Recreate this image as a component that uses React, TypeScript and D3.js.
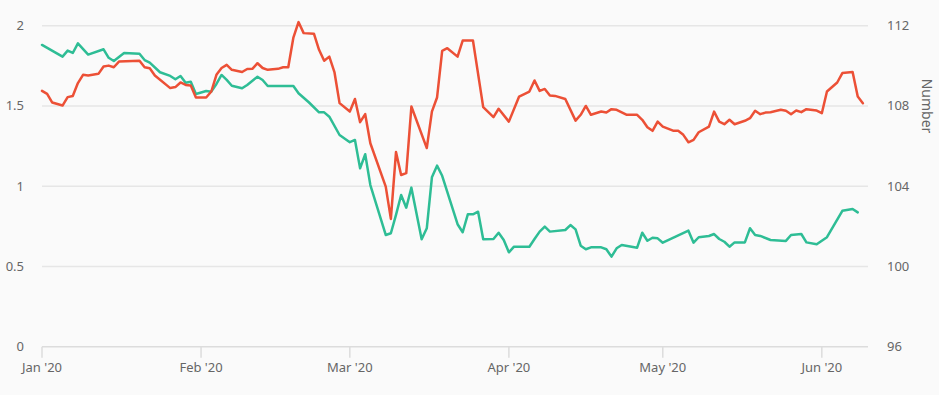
import React from "react";
import * as d3 from "d3";

document.body.style.margin = "0";

const leftTicks = [0, 0.5, 1, 1.5, 2];
const rightTicks = [96, 100, 104, 108, 112];
const monthTicks = ["2020-01-01", "2020-02-01", "2020-03-01", "2020-04-01", "2020-05-01", "2020-06-01"];

const greenDates = [
  "2020-01-01","2020-01-05","2020-01-06","2020-01-07","2020-01-08","2020-01-10","2020-01-13","2020-01-14","2020-01-15","2020-01-17",
  "2020-01-20","2020-01-21","2020-01-22","2020-01-24","2020-01-26","2020-01-27","2020-01-28","2020-01-29","2020-01-30","2020-01-31",
  "2020-02-02","2020-02-03","2020-02-04","2020-02-05","2020-02-06","2020-02-07","2020-02-09","2020-02-10","2020-02-12","2020-02-13",
  "2020-02-14","2020-02-19","2020-02-20","2020-02-22","2020-02-24","2020-02-25","2020-02-26","2020-02-28","2020-03-01","2020-03-02",
  "2020-03-03","2020-03-04","2020-03-05","2020-03-08","2020-03-09","2020-03-10","2020-03-11","2020-03-12","2020-03-13","2020-03-15",
  "2020-03-16","2020-03-17","2020-03-18","2020-03-19","2020-03-22","2020-03-23","2020-03-24","2020-03-25","2020-03-26","2020-03-27",
  "2020-03-29","2020-03-30","2020-03-31","2020-04-01","2020-04-02","2020-04-05","2020-04-06","2020-04-07","2020-04-08","2020-04-09",
  "2020-04-12","2020-04-13","2020-04-14","2020-04-15","2020-04-16","2020-04-17","2020-04-19","2020-04-20","2020-04-21","2020-04-22",
  "2020-04-23","2020-04-26","2020-04-27","2020-04-28","2020-04-29","2020-04-30","2020-05-01","2020-05-06","2020-05-07","2020-05-08",
  "2020-05-10","2020-05-11","2020-05-12","2020-05-13","2020-05-14","2020-05-15","2020-05-17","2020-05-18","2020-05-19","2020-05-20",
  "2020-05-22","2020-05-25","2020-05-26","2020-05-28","2020-05-29","2020-05-31","2020-06-02","2020-06-05","2020-06-07","2020-06-08"
];
const greenValues = [
  1.88,1.807,1.845,1.83,1.89,1.82,1.853,1.80,1.78,1.83,
  1.825,1.786,1.77,1.71,1.687,1.666,1.687,1.645,1.651,1.574,
  1.593,1.589,1.637,1.693,1.662,1.626,1.61,1.631,1.682,1.662,
  1.624,1.624,1.579,1.523,1.46,1.46,1.433,1.319,1.274,1.288,
  1.111,1.199,1.007,0.696,0.707,0.821,0.945,0.866,0.991,0.669,
  0.738,1.055,1.128,1.065,0.763,0.713,0.825,0.825,0.841,0.669,
  0.671,0.710,0.665,0.588,0.623,0.623,0.671,0.717,0.748,0.717,
  0.727,0.758,0.731,0.629,0.607,0.619,0.619,0.607,0.561,0.613,
  0.634,0.617,0.710,0.660,0.679,0.675,0.648,0.723,0.648,0.682,
  0.690,0.702,0.671,0.654,0.623,0.650,0.650,0.738,0.696,0.690,
  0.665,0.659,0.696,0.702,0.650,0.638,0.682,0.847,0.858,0.837
];

const redDates = [
  "2020-01-01","2020-01-02","2020-01-03","2020-01-05","2020-01-06","2020-01-07","2020-01-08","2020-01-09","2020-01-10","2020-01-12",
  "2020-01-13","2020-01-14","2020-01-15","2020-01-16","2020-01-20","2020-01-21","2020-01-22","2020-01-23","2020-01-26","2020-01-27",
  "2020-01-28","2020-01-29","2020-01-30","2020-01-31","2020-02-02","2020-02-03","2020-02-04","2020-02-05","2020-02-06","2020-02-07",
  "2020-02-09","2020-02-10","2020-02-11","2020-02-12","2020-02-13","2020-02-14","2020-02-16","2020-02-17","2020-02-18","2020-02-19",
  "2020-02-20","2020-02-21","2020-02-23","2020-02-24","2020-02-25","2020-02-26","2020-02-27","2020-02-28","2020-03-01","2020-03-02",
  "2020-03-03","2020-03-04","2020-03-05","2020-03-08","2020-03-09","2020-03-10","2020-03-11","2020-03-12","2020-03-13","2020-03-16",
  "2020-03-17","2020-03-18","2020-03-19","2020-03-20","2020-03-22","2020-03-23","2020-03-25","2020-03-27","2020-03-29","2020-03-30",
  "2020-04-01","2020-04-03","2020-04-05","2020-04-06","2020-04-07","2020-04-08","2020-04-09","2020-04-10","2020-04-12","2020-04-14",
  "2020-04-15","2020-04-16","2020-04-17","2020-04-19","2020-04-20","2020-04-21","2020-04-22","2020-04-24","2020-04-26","2020-04-27",
  "2020-04-28","2020-04-29","2020-04-30","2020-05-01","2020-05-03","2020-05-04","2020-05-05","2020-05-06","2020-05-07","2020-05-08",
  "2020-05-10","2020-05-11","2020-05-12","2020-05-13","2020-05-14","2020-05-15","2020-05-17","2020-05-18","2020-05-19","2020-05-20",
  "2020-05-21","2020-05-22","2020-05-24","2020-05-25","2020-05-26","2020-05-27","2020-05-28","2020-05-29","2020-05-31","2020-06-01",
  "2020-06-02","2020-06-04","2020-06-05","2020-06-07","2020-06-08","2020-06-09"
];
const redValues = [
  108.75,108.6,108.17,108.02,108.44,108.5,109.14,109.55,109.52,109.6,
  109.97,110.01,109.93,110.21,110.25,109.93,109.88,109.52,108.89,108.94,
  109.17,109.05,109.02,108.42,108.42,108.72,109.55,109.89,110.05,109.80,
  109.69,109.84,109.85,110.13,109.89,109.8,109.85,109.93,109.93,111.41,
  112.18,111.63,111.6,110.80,110.25,110.46,109.69,108.14,107.72,108.35,
  107.19,107.59,106.14,103.98,102.37,105.70,104.56,104.65,107.97,105.90,
  107.72,108.42,110.75,110.88,110.46,111.26,111.26,107.94,107.44,107.86,
  107.22,108.47,108.72,109.27,108.75,108.85,108.52,108.50,108.35,107.27,
  107.56,108.0,107.56,107.72,107.67,107.84,107.81,107.56,107.56,107.31,
  106.94,106.76,107.22,106.97,106.77,106.76,106.56,106.19,106.31,106.69,
  106.97,107.72,107.22,107.09,107.31,107.09,107.26,107.39,107.76,107.59,
  107.67,107.69,107.81,107.76,107.59,107.77,107.69,107.84,107.77,107.64,
  108.72,109.17,109.64,109.69,108.47,108.14
];

const W = 939;
const H = 395;
const left = 42;
const right = 868;
const top = 25.7;
const bottom = 346.7;

const parse = d3.timeParse("%Y-%m-%d");
const fmt = d3.timeFormat("%b '%y");

export default function App() {
  const x = d3.scaleTime().domain([parse("2020-01-01")!, parse("2020-06-10")!]).range([left, left + 160 * 5.1625]);
  const yL = d3.scaleLinear().domain([0, 2]).range([bottom, top]);
  const yR = d3.scaleLinear().domain([96, 112]).range([bottom, top]);

  const green = greenDates.map((d, i) => [parse(d)!, greenValues[i]] as [Date, number]);
  const red = redDates.map((d, i) => [parse(d)!, redValues[i]] as [Date, number]);

  const lineG = d3.line<[Date, number]>().x((d) => x(d[0])).y((d) => yL(d[1]));
  const lineR = d3.line<[Date, number]>().x((d) => x(d[0])).y((d) => yR(d[1]));

  const font = "'Noto Sans', 'Open Sans', sans-serif";
  const textColor = "#666666";

  return (
    <svg width={W} height={H} style={{ display: "block", background: "#fafafa" }} fontFamily={font}>
      <rect x={0} y={0} width={W} height={H} fill="#fafafa" />
      {leftTicks.slice(1).map((t) => (
        <line key={t} x1={left} x2={right} y1={yL(t)} y2={yL(t)} stroke="#e6e6e6" strokeWidth={1.5} />
      ))}
      <line x1={left} x2={right} y1={bottom} y2={bottom} stroke="#dcdcdc" strokeWidth={1.5} />
      {monthTicks.map((m) => {
        const xx = x(parse(m)!);
        return (
          <g key={m}>
            <line x1={xx} x2={xx} y1={bottom} y2={bottom + 11} stroke="#dcdcdc" strokeWidth={1.5} />
            <text x={xx} y={372} textAnchor="middle" fontSize={13} fill={textColor}>
              {fmt(parse(m)!)}
            </text>
          </g>
        );
      })}
      {leftTicks.map((t) => (
        <text key={t} x={24} y={yL(t) + 4.5} textAnchor="end" fontSize={13} fill={textColor}>
          {t}
        </text>
      ))}
      {rightTicks.map((t) => (
        <text key={t} x={887} y={yR(t) + 4.5} textAnchor="start" fontSize={13} fill={textColor}>
          {t}
        </text>
      ))}
      <text
        transform={`translate(922, 106) rotate(90)`}
        textAnchor="middle"
        fontSize={14}
        fill={textColor}
      >
        Number
      </text>
      <path d={lineG(green) || ""} fill="none" stroke="#2ebd95" strokeWidth={2.5} strokeLinejoin="round" strokeLinecap="round" />
      <path d={lineR(red) || ""} fill="none" stroke="#ec5036" strokeWidth={2.5} strokeLinejoin="round" strokeLinecap="round" />
    </svg>
  );
}
